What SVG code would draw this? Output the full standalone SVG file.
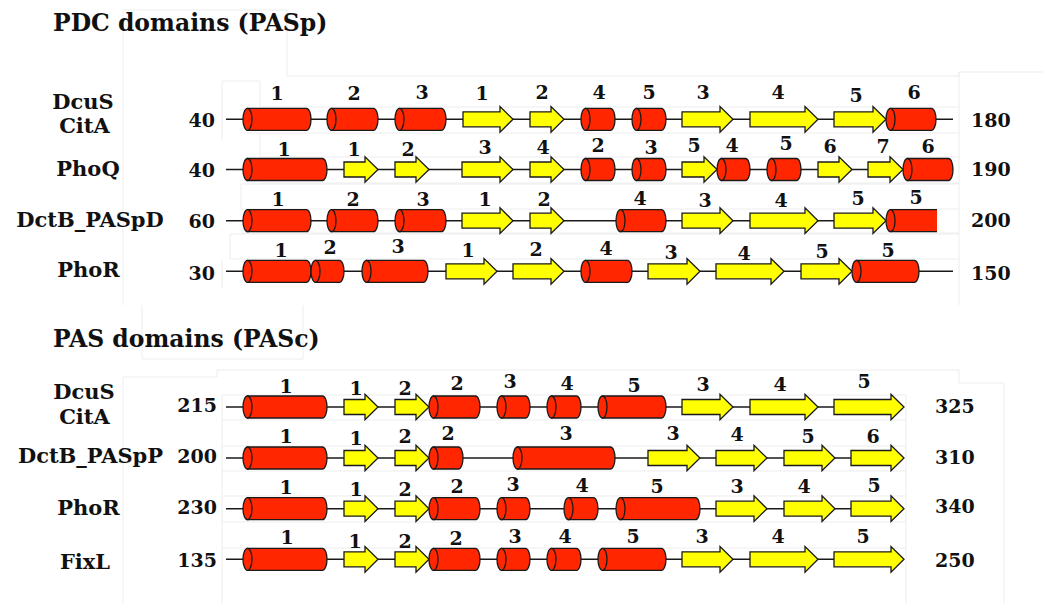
<svg xmlns="http://www.w3.org/2000/svg" width="1043" height="603" viewBox="0 0 1043 603">
  <style>
    text { font-family: "DejaVu Serif", "Liberation Serif", serif; font-weight: bold; fill: #111; }
    .ttl { font-size: 23.5px; }
    .nm { font-size: 21px; text-anchor: middle; }
    .num { font-size: 19px; }
    .numL { font-size: 19px; text-anchor: end; }
    .lab { font-size: 19px; text-anchor: middle; }
    .bb { stroke: #1a1a1a; stroke-width: 1.4; fill: none; }
    .h { fill: #ff2600; stroke: #1a1a1a; stroke-width: 1.3; }
    .hc { fill: #ff2600; stroke: none; }
    .s { fill: #ffff00; stroke: #1a1a1a; stroke-width: 1.3; stroke-linejoin: miter; }
    .fr { stroke: #ededed; stroke-width: 1; fill: none; }
  </style>

  <rect width="1043" height="603" fill="#ffffff"/>

  <!-- faint page rules -->
  <g id="rules" class="fr">
    <path d="M123,10 H287 V76 H959 V72 H1043"/>
    <path d="M123,10 V305"/>
    <path d="M959,72 V305"/>
    <path d="M222,81 H260 V107 H959 M222,81 V140 M247,133 H959"/>
    <path d="M260,133 V157 H959 M260,183 H959"/>
    <path d="M241,184 H959 M241,184 V209 H959 M241,233 H959"/>
    <path d="M230,234 H959 M230,234 V259 H959 M222,259 V288"/>
    <path d="M142,305 V359 H303 V305"/>
    <path d="M123,377 H217 V370 H959 V383 H1004 V603 M123,377 V603"/>
    <path d="M222,395 H906 M222,420 H906 M222,446 H906 M222,471 H906 M222,496 H906 M222,522 H906 M222,548 H906"/>
    <path d="M222,395 V603 M906,395 V603"/>
  </g>

  <text class="ttl" x="53" y="31">PDC domains (PASp)</text>
  <text class="ttl" x="53" y="347">PAS domains (PASc)</text>

  <!-- backbones -->
  <g id="backbones" class="bb">
    <path d="M226,119.3 H953"/>
    <path d="M226,169.5 H953"/>
    <path d="M226,220.7 H900"/>
    <path d="M226,271.3 H953"/>
    <path d="M226,407 H900"/>
    <path d="M226,458 H900"/>
    <path d="M226,508.7 H900"/>
    <path d="M226,559.3 H900"/>
  </g>

  <!-- DcuS / CitA, PDC -->
  <g id="row-dcus-pdc">
    <text class="nm" x="83" y="109">DcuS</text>
    <text class="nm" x="84.5" y="133">CitA</text>
    <text class="numL" x="215" y="127">40</text>
    <text class="num" x="971" y="126.5">180</text>
    <g transform="translate(0,119.3)">
      <path class="h" d="M247.5,-11 H306.5 A4.5,11 0 0 1 306.5,11 H247.5 Z"/><ellipse class="h" cx="247.5" cy="0" rx="4.5" ry="11"/>
      <path class="h" d="M331.5,-11 H373.5 A4.5,11 0 0 1 373.5,11 H331.5 Z"/><ellipse class="h" cx="331.5" cy="0" rx="4.5" ry="11"/>
      <path class="h" d="M399.5,-11 H441.5 A4.5,11 0 0 1 441.5,11 H399.5 Z"/><ellipse class="h" cx="399.5" cy="0" rx="4.5" ry="11"/>
      <path class="s" d="M463,-7.5 H500 V-12.8 L513,0 L500,12.8 V7.5 H463 Z"/>
      <path class="s" d="M530,-7.5 H551 V-12.8 L564,0 L551,12.8 V7.5 H530 Z"/>
      <path class="h" d="M585.5,-11 H610.5 A4.5,11 0 0 1 610.5,11 H585.5 Z"/><ellipse class="h" cx="585.5" cy="0" rx="4.5" ry="11"/>
      <path class="h" d="M636.5,-11 H661.5 A4.5,11 0 0 1 661.5,11 H636.5 Z"/><ellipse class="h" cx="636.5" cy="0" rx="4.5" ry="11"/>
      <path class="s" d="M682,-7.5 H720 V-12.8 L733,0 L720,12.8 V7.5 H682 Z"/>
      <path class="s" d="M750,-7.5 H805 V-12.8 L818,0 L805,12.8 V7.5 H750 Z"/>
      <path class="s" d="M834,-7.5 H873 V-12.8 L886,0 L873,12.8 V7.5 H834 Z"/>
      <path class="h" d="M890.5,-11 H931.5 A4.5,11 0 0 1 931.5,11 H890.5 Z"/><ellipse class="h" cx="890.5" cy="0" rx="4.5" ry="11"/>
    </g>
    <text class="lab" x="277" y="100">1</text>
    <text class="lab" x="354" y="99.5">2</text>
    <text class="lab" x="422" y="98.5">3</text>
    <text class="lab" x="482" y="100">1</text>
    <text class="lab" x="542" y="98.5">2</text>
    <text class="lab" x="599" y="98.5">4</text>
    <text class="lab" x="649" y="98.5">5</text>
    <text class="lab" x="703" y="98.5">3</text>
    <text class="lab" x="778" y="98.5">4</text>
    <text class="lab" x="856" y="102">5</text>
    <text class="lab" x="914" y="98.5">6</text>
  </g>

  <!-- PhoQ, PDC -->
  <g id="row-phoq-pdc">
    <text class="nm" x="88" y="176">PhoQ</text>
    <text class="numL" x="215" y="176.5">40</text>
    <text class="num" x="971" y="176">190</text>
    <g transform="translate(0,169.5)">
      <path class="h" d="M247.5,-11 H322.5 A4.5,11 0 0 1 322.5,11 H247.5 Z"/><ellipse class="h" cx="247.5" cy="0" rx="4.5" ry="11"/>
      <path class="s" d="M344,-7.5 H365 V-12.8 L378,0 L365,12.8 V7.5 H344 Z"/>
      <path class="s" d="M395,-7.5 H416 V-12.8 L429,0 L416,12.8 V7.5 H395 Z"/>
      <path class="s" d="M462,-7.5 H500 V-12.8 L513,0 L500,12.8 V7.5 H462 Z"/>
      <path class="s" d="M530,-7.5 H551 V-12.8 L564,0 L551,12.8 V7.5 H530 Z"/>
      <path class="h" d="M585.5,-11 H610.5 A4.5,11 0 0 1 610.5,11 H585.5 Z"/><ellipse class="h" cx="585.5" cy="0" rx="4.5" ry="11"/>
      <path class="h" d="M636.5,-11 H661.5 A4.5,11 0 0 1 661.5,11 H636.5 Z"/><ellipse class="h" cx="636.5" cy="0" rx="4.5" ry="11"/>
      <path class="s" d="M682,-7.5 H704 V-12.8 L717,0 L704,12.8 V7.5 H682 Z"/>
      <path class="h" d="M721.5,-11 H745.5 A4.5,11 0 0 1 745.5,11 H721.5 Z"/><ellipse class="h" cx="721.5" cy="0" rx="4.5" ry="11"/>
      <path class="h" d="M771.5,-11 H796.5 A4.5,11 0 0 1 796.5,11 H771.5 Z"/><ellipse class="h" cx="771.5" cy="0" rx="4.5" ry="11"/>
      <path class="s" d="M818,-7.5 H839 V-12.8 L852,0 L839,12.8 V7.5 H818 Z"/>
      <path class="s" d="M868,-7.5 H890 V-12.8 L903,0 L890,12.8 V7.5 H868 Z"/>
      <path class="h" d="M907.5,-11 H948.5 A4.5,11 0 0 1 948.5,11 H907.5 Z"/><ellipse class="h" cx="907.5" cy="0" rx="4.5" ry="11"/>
    </g>
    <text class="lab" x="284" y="156">1</text>
    <text class="lab" x="354" y="156">1</text>
    <text class="lab" x="408" y="156">2</text>
    <text class="lab" x="485" y="154">3</text>
    <text class="lab" x="543" y="153.5">4</text>
    <text class="lab" x="598" y="152">2</text>
    <text class="lab" x="651" y="154">3</text>
    <text class="lab" x="694" y="152">5</text>
    <text class="lab" x="732" y="152">4</text>
    <text class="lab" x="786" y="150">5</text>
    <text class="lab" x="830" y="153">6</text>
    <text class="lab" x="883" y="153">7</text>
    <text class="lab" x="928" y="152.5">6</text>
  </g>

  <!-- DctB PASpD, PDC -->
  <g id="row-dctb-pdc">
    <text class="nm" x="90" y="227">DctB_PASpD</text>
    <text class="numL" x="215" y="228">60</text>
    <text class="num" x="971" y="227">200</text>
    <g transform="translate(0,220.7)">
      <path class="h" d="M247.5,-11 H306.5 A4.5,11 0 0 1 306.5,11 H247.5 Z"/><ellipse class="h" cx="247.5" cy="0" rx="4.5" ry="11"/>
      <path class="h" d="M331.5,-11 H373.5 A4.5,11 0 0 1 373.5,11 H331.5 Z"/><ellipse class="h" cx="331.5" cy="0" rx="4.5" ry="11"/>
      <path class="h" d="M399.5,-11 H441.5 A4.5,11 0 0 1 441.5,11 H399.5 Z"/><ellipse class="h" cx="399.5" cy="0" rx="4.5" ry="11"/>
      <path class="s" d="M462,-7.5 H500 V-12.8 L513,0 L500,12.8 V7.5 H462 Z"/>
      <path class="s" d="M530,-7.5 H551 V-12.8 L564,0 L551,12.8 V7.5 H530 Z"/>
      <path class="h" d="M620.5,-11 H661.5 A4.5,11 0 0 1 661.5,11 H620.5 Z"/><ellipse class="h" cx="620.5" cy="0" rx="4.5" ry="11"/>
      <path class="s" d="M682,-7.5 H720 V-12.8 L733,0 L720,12.8 V7.5 H682 Z"/>
      <path class="s" d="M750,-7.5 H805 V-12.8 L818,0 L805,12.8 V7.5 H750 Z"/>
      <path class="s" d="M834,-7.5 H873 V-12.8 L886,0 L873,12.8 V7.5 H834 Z"/>
      <!-- last helix is cut at the right edge -->
      <rect class="hc" x="890.5" y="-11" width="46.5" height="22"/>
      <path class="bb" d="M890.5,-11 H937 M890.5,11 H937" style="stroke-width:1.3"/>
      <ellipse class="h" cx="890.5" cy="0" rx="4.5" ry="11"/>
    </g>
    <text class="lab" x="278" y="206">1</text>
    <text class="lab" x="353" y="206">2</text>
    <text class="lab" x="423" y="206">3</text>
    <text class="lab" x="485" y="206">1</text>
    <text class="lab" x="544" y="206">2</text>
    <text class="lab" x="640" y="205">4</text>
    <text class="lab" x="705" y="207">3</text>
    <text class="lab" x="781" y="207">4</text>
    <text class="lab" x="858" y="205">5</text>
    <text class="lab" x="916" y="204">5</text>
  </g>

  <!-- PhoR, PDC -->
  <g id="row-phor-pdc">
    <text class="nm" x="88.5" y="277">PhoR</text>
    <text class="numL" x="215" y="280">30</text>
    <text class="num" x="971" y="280">150</text>
    <g transform="translate(0,271.3)">
      <path class="h" d="M247.5,-11 H306.5 A4.5,11 0 0 1 306.5,11 H247.5 Z"/><ellipse class="h" cx="247.5" cy="0" rx="4.5" ry="11"/>
      <path class="h" d="M315.5,-11 H339.5 A4.5,11 0 0 1 339.5,11 H315.5 Z"/><ellipse class="h" cx="315.5" cy="0" rx="4.5" ry="11"/>
      <path class="h" d="M366.5,-11 H423.5 A4.5,11 0 0 1 423.5,11 H366.5 Z"/><ellipse class="h" cx="366.5" cy="0" rx="4.5" ry="11"/>
      <path class="s" d="M446,-7.5 H484 V-12.8 L497,0 L484,12.8 V7.5 H446 Z"/>
      <path class="s" d="M513,-7.5 H551 V-12.8 L564,0 L551,12.8 V7.5 H513 Z"/>
      <path class="h" d="M585.5,-11 H627.5 A4.5,11 0 0 1 627.5,11 H585.5 Z"/><ellipse class="h" cx="585.5" cy="0" rx="4.5" ry="11"/>
      <path class="s" d="M648,-7.5 H687 V-12.8 L700,0 L687,12.8 V7.5 H648 Z"/>
      <path class="s" d="M716,-7.5 H771 V-12.8 L784,0 L771,12.8 V7.5 H716 Z"/>
      <path class="s" d="M801,-7.5 H839 V-12.8 L852,0 L839,12.8 V7.5 H801 Z"/>
      <path class="h" d="M856.5,-11 H914.5 A4.5,11 0 0 1 914.5,11 H856.5 Z"/><ellipse class="h" cx="856.5" cy="0" rx="4.5" ry="11"/>
    </g>
    <text class="lab" x="281" y="257">1</text>
    <text class="lab" x="330" y="254">2</text>
    <text class="lab" x="398" y="253">3</text>
    <text class="lab" x="468" y="257">1</text>
    <text class="lab" x="536" y="256">2</text>
    <text class="lab" x="606" y="255">4</text>
    <text class="lab" x="671" y="259">3</text>
    <text class="lab" x="744" y="260">4</text>
    <text class="lab" x="822" y="258">5</text>
    <text class="lab" x="888" y="257">5</text>
  </g>

  <!-- DcuS / CitA, PAS -->
  <g id="row-dcus-pas">
    <text class="nm" x="84" y="399">DcuS</text>
    <text class="nm" x="84.5" y="424">CitA</text>
    <text class="numL" x="217" y="412">215</text>
    <text class="num" x="935" y="413">325</text>
    <g transform="translate(0,407)">
      <path class="h" d="M247.5,-11 H322.5 A4.5,11 0 0 1 322.5,11 H247.5 Z"/><ellipse class="h" cx="247.5" cy="0" rx="4.5" ry="11"/>
      <path class="s" d="M344,-7.5 H365 V-12.8 L378,0 L365,12.8 V7.5 H344 Z"/>
      <path class="s" d="M395,-7.5 H416 V-12.8 L429,0 L416,12.8 V7.5 H395 Z"/>
      <path class="h" d="M433.5,-11 H475.5 A4.5,11 0 0 1 475.5,11 H433.5 Z"/><ellipse class="h" cx="433.5" cy="0" rx="4.5" ry="11"/>
      <path class="h" d="M501.5,-11 H525.5 A4.5,11 0 0 1 525.5,11 H501.5 Z"/><ellipse class="h" cx="501.5" cy="0" rx="4.5" ry="11"/>
      <path class="h" d="M551.5,-11 H576.5 A4.5,11 0 0 1 576.5,11 H551.5 Z"/><ellipse class="h" cx="551.5" cy="0" rx="4.5" ry="11"/>
      <path class="h" d="M602.5,-11 H661.5 A4.5,11 0 0 1 661.5,11 H602.5 Z"/><ellipse class="h" cx="602.5" cy="0" rx="4.5" ry="11"/>
      <path class="s" d="M682,-7.5 H720 V-12.8 L733,0 L720,12.8 V7.5 H682 Z"/>
      <path class="s" d="M750,-7.5 H805 V-12.8 L818,0 L805,12.8 V7.5 H750 Z"/>
      <path class="s" d="M834,-7.5 H891 V-12.8 L904,0 L891,12.8 V7.5 H834 Z"/>
    </g>
    <text class="lab" x="286" y="393">1</text>
    <text class="lab" x="356" y="395">1</text>
    <text class="lab" x="405" y="395">2</text>
    <text class="lab" x="457" y="390">2</text>
    <text class="lab" x="510" y="388">3</text>
    <text class="lab" x="567" y="390">4</text>
    <text class="lab" x="634" y="392">5</text>
    <text class="lab" x="703" y="391">3</text>
    <text class="lab" x="780" y="391">4</text>
    <text class="lab" x="864" y="388">5</text>
  </g>

  <!-- DctB PASpP, PAS -->
  <g id="row-dctb-pas">
    <text class="nm" x="90.5" y="463">DctB_PASpP</text>
    <text class="numL" x="217" y="463">200</text>
    <text class="num" x="935" y="464">310</text>
    <g transform="translate(0,458)">
      <path class="h" d="M247.5,-11 H322.5 A4.5,11 0 0 1 322.5,11 H247.5 Z"/><ellipse class="h" cx="247.5" cy="0" rx="4.5" ry="11"/>
      <path class="s" d="M344,-7.5 H365 V-12.8 L378,0 L365,12.8 V7.5 H344 Z"/>
      <path class="s" d="M395,-7.5 H416 V-12.8 L429,0 L416,12.8 V7.5 H395 Z"/>
      <path class="h" d="M433.5,-11 H458.5 A4.5,11 0 0 1 458.5,11 H433.5 Z"/><ellipse class="h" cx="433.5" cy="0" rx="4.5" ry="11"/>
      <path class="h" d="M517.5,-11 H610.5 A4.5,11 0 0 1 610.5,11 H517.5 Z"/><ellipse class="h" cx="517.5" cy="0" rx="4.5" ry="11"/>
      <path class="s" d="M648,-7.5 H687 V-12.8 L700,0 L687,12.8 V7.5 H648 Z"/>
      <path class="s" d="M716,-7.5 H754 V-12.8 L767,0 L754,12.8 V7.5 H716 Z"/>
      <path class="s" d="M784,-7.5 H822 V-12.8 L835,0 L822,12.8 V7.5 H784 Z"/>
      <path class="s" d="M851,-7.5 H891 V-12.8 L904,0 L891,12.8 V7.5 H851 Z"/>
    </g>
    <text class="lab" x="286" y="443">1</text>
    <text class="lab" x="356" y="445">1</text>
    <text class="lab" x="405" y="443">2</text>
    <text class="lab" x="448" y="440">2</text>
    <text class="lab" x="566" y="440">3</text>
    <text class="lab" x="673" y="440">3</text>
    <text class="lab" x="737" y="441">4</text>
    <text class="lab" x="808" y="443">5</text>
    <text class="lab" x="873" y="443">6</text>
  </g>

  <!-- PhoR, PAS -->
  <g id="row-phor-pas">
    <text class="nm" x="88.5" y="515">PhoR</text>
    <text class="numL" x="217" y="514">230</text>
    <text class="num" x="935" y="513">340</text>
    <g transform="translate(0,508.7)">
      <path class="h" d="M247.5,-11 H322.5 A4.5,11 0 0 1 322.5,11 H247.5 Z"/><ellipse class="h" cx="247.5" cy="0" rx="4.5" ry="11"/>
      <path class="s" d="M344,-7.5 H365 V-12.8 L378,0 L365,12.8 V7.5 H344 Z"/>
      <path class="s" d="M395,-7.5 H416 V-12.8 L429,0 L416,12.8 V7.5 H395 Z"/>
      <path class="h" d="M433.5,-11 H475.5 A4.5,11 0 0 1 475.5,11 H433.5 Z"/><ellipse class="h" cx="433.5" cy="0" rx="4.5" ry="11"/>
      <path class="h" d="M501.5,-11 H525.5 A4.5,11 0 0 1 525.5,11 H501.5 Z"/><ellipse class="h" cx="501.5" cy="0" rx="4.5" ry="11"/>
      <path class="h" d="M568.5,-11 H593.5 A4.5,11 0 0 1 593.5,11 H568.5 Z"/><ellipse class="h" cx="568.5" cy="0" rx="4.5" ry="11"/>
      <path class="h" d="M620.5,-11 H695.5 A4.5,11 0 0 1 695.5,11 H620.5 Z"/><ellipse class="h" cx="620.5" cy="0" rx="4.5" ry="11"/>
      <path class="s" d="M716,-7.5 H754 V-12.8 L767,0 L754,12.8 V7.5 H716 Z"/>
      <path class="s" d="M784,-7.5 H822 V-12.8 L835,0 L822,12.8 V7.5 H784 Z"/>
      <path class="s" d="M851,-7.5 H891 V-12.8 L904,0 L891,12.8 V7.5 H851 Z"/>
    </g>
    <text class="lab" x="286" y="494">1</text>
    <text class="lab" x="356" y="496">1</text>
    <text class="lab" x="405" y="496">2</text>
    <text class="lab" x="457" y="493">2</text>
    <text class="lab" x="513" y="491">3</text>
    <text class="lab" x="582" y="492">4</text>
    <text class="lab" x="657" y="493">5</text>
    <text class="lab" x="737" y="493">3</text>
    <text class="lab" x="804" y="493">4</text>
    <text class="lab" x="874" y="492">5</text>
  </g>

  <!-- FixL, PAS -->
  <g id="row-fixl-pas">
    <text class="nm" x="85" y="569">FixL</text>
    <text class="numL" x="217" y="567">135</text>
    <text class="num" x="935" y="567">250</text>
    <g transform="translate(0,559.3)">
      <path class="h" d="M247.5,-11 H322.5 A4.5,11 0 0 1 322.5,11 H247.5 Z"/><ellipse class="h" cx="247.5" cy="0" rx="4.5" ry="11"/>
      <path class="s" d="M344,-7.5 H365 V-12.8 L378,0 L365,12.8 V7.5 H344 Z"/>
      <path class="s" d="M395,-7.5 H416 V-12.8 L429,0 L416,12.8 V7.5 H395 Z"/>
      <path class="h" d="M433.5,-11 H475.5 A4.5,11 0 0 1 475.5,11 H433.5 Z"/><ellipse class="h" cx="433.5" cy="0" rx="4.5" ry="11"/>
      <path class="h" d="M501.5,-11 H525.5 A4.5,11 0 0 1 525.5,11 H501.5 Z"/><ellipse class="h" cx="501.5" cy="0" rx="4.5" ry="11"/>
      <path class="h" d="M551.5,-11 H576.5 A4.5,11 0 0 1 576.5,11 H551.5 Z"/><ellipse class="h" cx="551.5" cy="0" rx="4.5" ry="11"/>
      <path class="h" d="M602.5,-11 H661.5 A4.5,11 0 0 1 661.5,11 H602.5 Z"/><ellipse class="h" cx="602.5" cy="0" rx="4.5" ry="11"/>
      <path class="s" d="M682,-7.5 H720 V-12.8 L733,0 L720,12.8 V7.5 H682 Z"/>
      <path class="s" d="M750,-7.5 H805 V-12.8 L818,0 L805,12.8 V7.5 H750 Z"/>
      <path class="s" d="M834,-7.5 H891 V-12.8 L904,0 L891,12.8 V7.5 H834 Z"/>
    </g>
    <text class="lab" x="287" y="544">1</text>
    <text class="lab" x="355" y="548">1</text>
    <text class="lab" x="405" y="548">2</text>
    <text class="lab" x="456" y="545">2</text>
    <text class="lab" x="515" y="543">3</text>
    <text class="lab" x="565" y="543">4</text>
    <text class="lab" x="633" y="543">5</text>
    <text class="lab" x="702" y="543">3</text>
    <text class="lab" x="778" y="543">4</text>
    <text class="lab" x="863" y="543">5</text>
  </g>
</svg>
